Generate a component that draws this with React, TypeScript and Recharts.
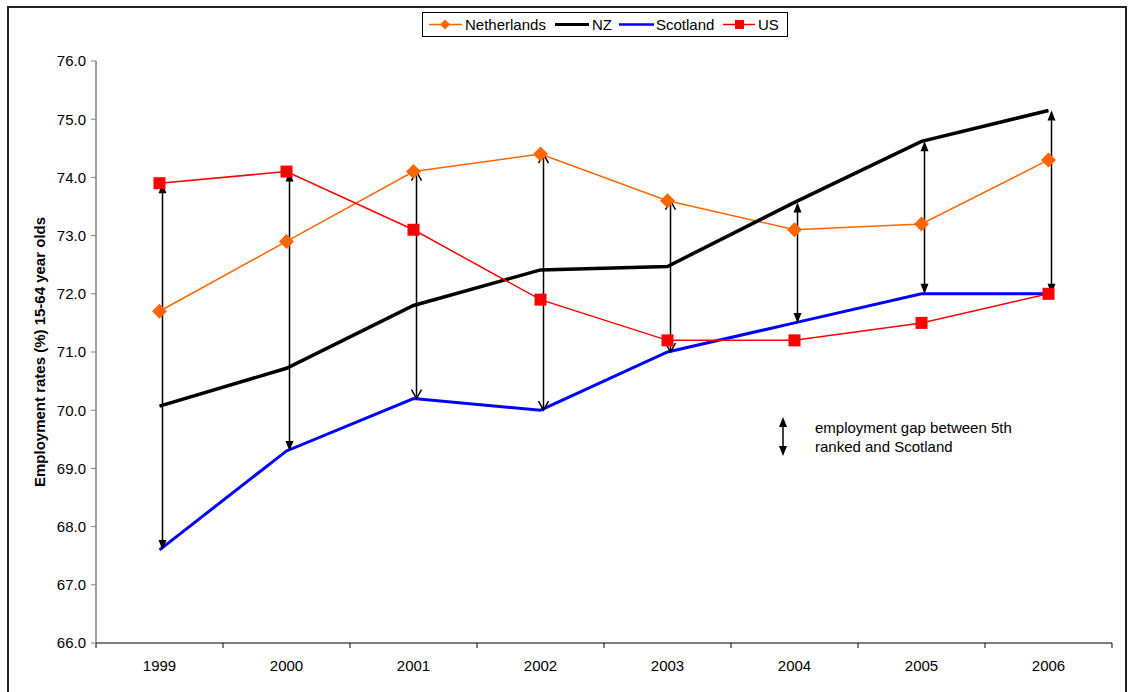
import React from "react"
import { LineChart, Line, XAxis, YAxis, ReferenceLine } from "recharts"

const years = ["1999", "2000", "2001", "2002", "2003", "2004", "2005", "2006"]
const netherlands = [71.7, 72.9, 74.1, 74.4, 73.6, 73.1, 73.2, 74.3]
const nz = [70.07, 70.72, 71.8, 72.41, 72.47, 73.57, 74.62, 75.15]
const scotland = [67.6, 69.3, 70.2, 70.0, 71.0, 71.5, 72.0, 72.0]
const us = [73.9, 74.1, 73.1, 71.9, 71.2, 71.2, 71.5, 72.0]
const yTicks = [66, 67, 68, 69, 70, 71, 72, 73, 74, 75, 76]

// years whose gap arrow is drawn with open heads
const openHeadYears = ["2001", "2002", "2003"]

const rows = years.map((year, i) => ({
  year,
  x: i + 0.5,
  netherlands: netherlands[i],
  nz: nz[i],
  scotland: scotland[i],
  us: us[i],
}))

// top of each gap arrow: the highest of the comparison countries that year
const gapTop = years.map((_, i) => Math.max(netherlands[i], nz[i], us[i]))

const W = 1129
const H = 692
const LEFT = 96
const RIGHT = 17
const band = (W - LEFT - RIGHT) / years.length
const xTicks = [...years.map((_, i) => i), years.length]
const FONT = '"Liberation Sans", Arial, sans-serif'

const diamondDot = (p: any) => (
  <path
    key={`d${p.index}`}
    d={`M${p.cx},${p.cy - 7.5}L${p.cx + 7.5},${p.cy}L${p.cx},${p.cy + 7.5}L${p.cx - 7.5},${p.cy}Z`}
    fill="#FF6600"
  />
)

const squareDot = (p: any) => (
  <rect key={`s${p.index}`} x={p.cx - 6} y={p.cy - 6} width={12} height={12} fill="#FF0000" />
)

const yearTick = (p: any) => {
  const i = p.payload.value
  if (i >= years.length) return <g />
  return (
    <text x={p.x + band / 2} y={p.y} dy={23} textAnchor="middle" fontSize={15} fill="#000" fontFamily={FONT}>
      {years[i]}
    </text>
  )
}

function arrowHeads(x: number, top: number, bottom: number, open: boolean) {
  if (open) {
    return (
      <g fill="none" stroke="#000" strokeWidth={1.5}>
        <polyline points={`${x - 5},${top + 9} ${x},${top} ${x + 5},${top + 9}`} />
        <polyline points={`${x - 5},${bottom - 9} ${x},${bottom} ${x + 5},${bottom - 9}`} />
      </g>
    )
  }
  return (
    <g fill="#000">
      <path d={`M${x},${top}L${x - 4},${top + 10}L${x + 4},${top + 10}Z`} />
      <path d={`M${x},${bottom}L${x - 4},${bottom - 10}L${x + 4},${bottom - 10}Z`} />
    </g>
  )
}

const gapArrow = (open: boolean) => (p: any) => {
  const x = p.x1 + 3
  const top = Math.min(p.y1, p.y2)
  const bottom = Math.max(p.y1, p.y2)
  return (
    <g>
      <line x1={x} y1={top + 2} x2={x} y2={bottom - 2} stroke="#000" strokeWidth={1.5} />
      {arrowHeads(x, top, bottom, open)}
    </g>
  )
}

function LegendBox() {
  return (
    <svg width={366} height={25} style={{ position: "absolute", left: 422, top: 12 }}>
      <rect x={0.5} y={0.5} width={365} height={24} fill="#fff" stroke="#000" />
      <g fontSize={15} fontFamily={FONT} fill="#000">
        <line x1={7} y1={12.5} x2={40} y2={12.5} stroke="#FF6600" strokeWidth={1.5} />
        <path d="M23,7.5L28,12.5L23,17.5L18,12.5Z" fill="#FF6600" />
        <text x={43} y={18}>Netherlands</text>
        <line x1={133} y1={12.5} x2={167} y2={12.5} stroke="#000" strokeWidth={3} />
        <text x={170} y={18}>NZ</text>
        <line x1={197} y1={12.5} x2={232} y2={12.5} stroke="#0000FF" strokeWidth={2.5} />
        <text x={234} y={18}>Scotland</text>
        <line x1={301} y1={12.5} x2={333} y2={12.5} stroke="#FF0000" strokeWidth={1.5} />
        <rect x={313} y={8} width={9} height={9} fill="#FF0000" />
        <text x={336} y={18}>US</text>
      </g>
    </svg>
  )
}

function Notes() {
  return (
    <svg width={W} height={H} style={{ position: "absolute", left: 0, top: 0, pointerEvents: "none" }}>
      <text
        x={45}
        y={352}
        transform="rotate(-90 45 352)"
        textAnchor="middle"
        fontSize={15}
        fontWeight="bold"
        fontFamily={FONT}
        fill="#000"
      >
        Employment rates (%) 15-64 year olds
      </text>
      <line x1={783} y1={419} x2={783} y2={454} stroke="#000" strokeWidth={1.5} />
      {arrowHeads(783, 417, 456, false)}
      <g fontSize={15} fontFamily={FONT} fill="#000">
        <text x={815} y={433}>employment gap between 5th</text>
        <text x={815} y={452}>ranked and Scotland</text>
      </g>
    </svg>
  )
}

export default function App() {
  return (
    <div style={{ position: "absolute", left: 0, top: 0, width: W, height: H, overflow: "hidden", background: "#fff", fontFamily: FONT }}>
      <div
        style={{
          position: "absolute",
          left: 7,
          top: 6,
          width: 1116,
          height: 720,
          border: "2px solid #222",
        }}
      />
      <div style={{ position: "absolute", left: 0, top: 0 }}>
        <LineChart width={W} height={H} data={rows} margin={{ top: 61, right: RIGHT, bottom: 0, left: 0 }}>
          <XAxis
            type="number"
            dataKey="x"
            domain={[0, years.length]}
            ticks={xTicks}
            interval={0}
            height={49}
            tickSize={5}
            tickMargin={0}
            axisLine={{ stroke: "#000" }}
            tickLine={{ stroke: "#000" }}
            tick={yearTick}
          />
          <YAxis
            domain={[66, 76]}
            ticks={yTicks}
            interval={0}
            width={96}
            tickSize={5}
            tickMargin={5}
            tickFormatter={(v: number) => v.toFixed(1)}
            axisLine={{ stroke: "#808080", strokeWidth: 1.5 }}
            tickLine={{ stroke: "#808080" }}
            tick={{ fill: "#000", fontSize: 15, fontFamily: FONT }}
          />
          <Line
            dataKey="netherlands"
            stroke="#FF6600"
            strokeWidth={1.5}
            dot={diamondDot}
            activeDot={false}
            isAnimationActive={false}
          />
          <Line dataKey="nz" stroke="#000" strokeWidth={3.5} dot={false} activeDot={false} isAnimationActive={false} />
          <Line dataKey="scotland" stroke="#0000FF" strokeWidth={3} dot={false} activeDot={false} isAnimationActive={false} />
          <Line
            dataKey="us"
            stroke="#FF0000"
            strokeWidth={1.5}
            dot={squareDot}
            activeDot={false}
            isAnimationActive={false}
          />
          {years.map((year, i) => (
            <ReferenceLine
              key={year}
              segment={[
                { x: i + 0.5, y: gapTop[i] },
                { x: i + 0.5, y: scotland[i] },
              ]}
              ifOverflow="visible"
              shape={gapArrow(openHeadYears.includes(year))}
            />
          ))}
        </LineChart>
      </div>
      <LegendBox />
      <Notes />
    </div>
  )
}
